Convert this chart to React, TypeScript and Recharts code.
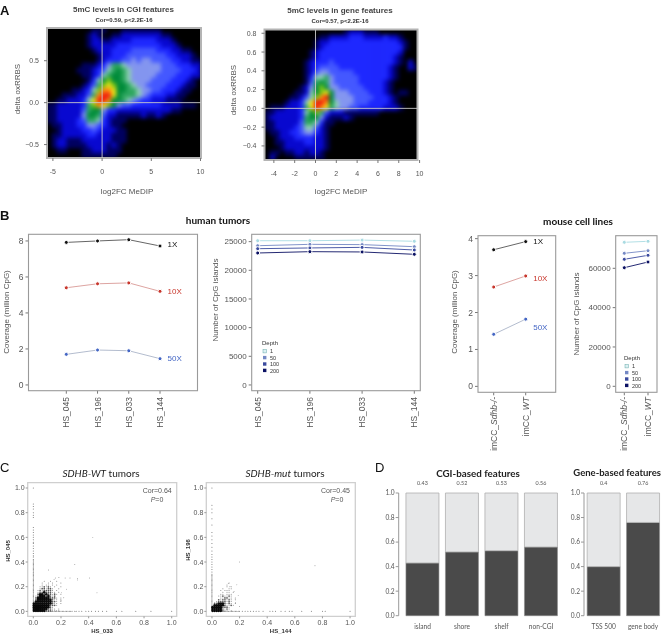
import React from 'react'
import {
  Bar, BarChart, LabelList, Line, LineChart, ReferenceArea, ReferenceLine,
  Scatter, ScatterChart, XAxis, YAxis,
} from 'recharts'

// every chart shares one page-sized svg, so the plot boxes below are page pixels
const W = 680
const H = 637
const AX = 20
const GREY = '#555'
const SANS = '"Liberation Sans", Arial, sans-serif'
const LATO = 'Lato, "Open Sans", sans-serif'

const frame = (l: number, t: number, r: number, b: number) => ({
  left: l - AX, top: t, right: W - r, bottom: H - b - AX,
})

// panel A: density, one hex level per cell, top row first
const HEAT_COLORS = ['#000000', '#000060', '#0808d0', '#1e28ff', '#4458ff', '#8496f0', '#8fd0b4', '#2ea860', '#008c3a', '#7cc818', '#f0e818', '#ff8c10', '#f01c10']

const CGI_DENSITY = [
  '0000000001110001111111100000000',
  '0000000012100112222222211000000',
  '0000000012211222233333222100000',
  '0000000012222233333333322210000',
  '0000000001222333344444333221100',
  '0000000000122333444444443322210',
  '0000000000123334454554444332211',
  '0000000111235776555555544433322',
  '0000001112346787655555544443332',
  '0000000112367887655555444433322',
  '0000000013689887655554444333210',
  '000000012479a988765544443332110',
  '00000112369bba88776554433321100',
  '0001112247bcca87776543332211000',
  '00112223 6accb88765433222111000'.replace(' ', ''),
  '1122222379ba985443333332222111',
  '11222224788533222222222221100',
  '112222258874221111121121',
  '1122223477632111',
  '0112223355432110',
  '00122223343222110',
  '01122222332221110',
  '01221112222221110',
  '0122111122221210',
  '0011000112221110',
  '0000000111111100',
]

const GENE_DENSITY = [
  '0000000000000000122211100000000',
  '0000000000011222233322223221000',
  '0000000000122333333333333332100',
  '0000000000123333333333333333100',
  '0000000001233333333333333332000',
  '0000000001233333333333333321000',
  '0000000012333433333333333321020',
  '0000000012344443333333333210021',
  '0000000012455444443333333210000',
  '0000000013667544444333333210000',
  '0000000014787544444333332100000',
  '0000000125898554444433332100000',
  '000000112689a85554444333210110',
  '00000112469bc855554444333210',
  '000012236accb86555444333321',
  '011122237acba765544333332221',
  '11222223689742221111111',
  '122222237885211121',
  '11222224776311',
  '1122223466421',
  '0112233455321',
  '0012223333221',
  '0011222233221',
  '0001222222221',
  '011011221221',
  '020000111111',
]

const CGI_X_TICKS = [-5, 0, 5, 10]
const CGI_Y_TICKS = [-0.5, 0, 0.5]
const GENE_X_TICKS = [-4, -2, 0, 2, 4, 6, 8, 10]
const GENE_Y_TICKS = [-0.4, -0.2, 0, 0.2, 0.4, 0.6, 0.8]

// panel B
const HUMAN_SAMPLES = ['HS_045', 'HS_196', 'HS_033', 'HS_144']
const HUMAN_COV_1X = [7.92, 8.0, 8.07, 7.72]
const HUMAN_COV_10X = [5.4, 5.62, 5.67, 5.2]
const HUMAN_COV_50X = [1.7, 1.94, 1.9, 1.46]
const HUMAN_CPG_1 = [25160, 25160, 25270, 25060]
const HUMAN_CPG_50 = [24290, 24530, 24480, 24120]
const HUMAN_CPG_100 = [23770, 23900, 24000, 23540]
const HUMAN_CPG_200 = [23020, 23250, 23200, 22790]

const MOUSE_LINES = ['imCC_Sdhb-/-', 'imCC_WT']
const MOUSE_COV_1X = [3.7, 3.92]
const MOUSE_COV_10X = [2.69, 2.99]
const MOUSE_COV_50X = [1.41, 1.82]
const MOUSE_CPG_1 = [73220, 73730]
const MOUSE_CPG_50 = [67630, 68950]
const MOUSE_CPG_100 = [64580, 66610]
const MOUSE_CPG_200 = [60310, 63200]

const DEPTHS = ['1', '50', '100', '200']
const DEPTH_COLORS = ['#a9dbe2', '#7488c4', '#3a4a9e', '#0b1163']

// panel C: dots along the two axes, plus the fan near the origin by density cell
const UNIT_TICKS = [0, 0.2, 0.4, 0.6, 0.8, 1]

const WT_ON_Y = [0.01, 0.02, 0.03, 0.04, 0.05, 0.06, 0.07, 0.08, 0.09, 0.1, 0.11, 0.12, 0.13, 0.14, 0.15, 0.16, 0.17, 0.18, 0.19, 0.2, 0.21, 0.22, 0.23, 0.24, 0.25, 0.26, 0.27, 0.28, 0.29, 0.3, 0.31, 0.32, 0.33, 0.34, 0.35, 0.36, 0.37, 0.38, 0.39, 0.4, 0.41, 0.42, 0.44, 0.45, 0.47, 0.49, 0.51, 0.53, 0.55, 0.56, 0.58, 0.6, 0.62, 0.64, 0.66, 0.68, 0.76, 0.78, 0.8, 0.83, 0.85, 0.87, 1.0]
const WT_ON_X = [0.01, 0.02, 0.03, 0.04, 0.05, 0.06, 0.07, 0.08, 0.09, 0.1, 0.11, 0.12, 0.13, 0.14, 0.15, 0.16, 0.17, 0.18, 0.19, 0.2, 0.21, 0.22, 0.23, 0.24, 0.25, 0.26, 0.27, 0.28, 0.3, 0.31, 0.33, 0.35, 0.38, 0.4, 0.42, 0.45, 0.47, 0.5, 0.53, 0.6, 0.64, 0.74, 0.85, 1.0]
const WT_LOOSE = [[0.43, 0.6], [0.3, 0.38], [0.11, 0.335], [0.405, 0.27], [0.32, 0.265], [0.32, 0.255], [0.23, 0.27], [0.265, 0.27], [0.46, 0.15], [0.24, 0.18], [0.205, 0.15], [0.16, 0.27], [0.185, 0.275], [0.15, 0.26], [0.22, 0.11], [0.2, 0.09]]
const WT_FAN = [
  '     .  .  .   ',
  '    .  . .   . ',
  '    . .. . .   ',
  '   ..+.+. .  . ',
  '   .++.++.  .  ',
  '  .+.++++. .   ',
  '  .++#+++.. .  ',
  '  +##+#++.+. . ',
  ' .+###+#+.+    ',
  ' +######+++. . ',
  ' +#######+.. . ',
  ' ########++. . ',
  '#########+.. . ',
  '########+++.   ',
  '########+.     ',
  '#######++.. .  ',
  '######+++....  ',
]

const MUT_ON_Y = [0.01, 0.02, 0.03, 0.04, 0.05, 0.06, 0.07, 0.08, 0.09, 0.1, 0.11, 0.12, 0.13, 0.14, 0.15, 0.16, 0.17, 0.18, 0.19, 0.2, 0.21, 0.22, 0.23, 0.24, 0.25, 0.26, 0.27, 0.28, 0.29, 0.3, 0.32, 0.34, 0.36, 0.38, 0.4, 0.42, 0.44, 0.46, 0.49, 0.52, 0.55, 0.58, 0.61, 0.64, 0.7, 0.75, 0.8, 0.83, 0.86, 1.0]
const MUT_ON_X = [0.01, 0.02, 0.03, 0.04, 0.05, 0.06, 0.07, 0.08, 0.09, 0.1, 0.11, 0.12, 0.13, 0.14, 0.15, 0.16, 0.17, 0.18, 0.19, 0.2, 0.22, 0.24, 0.26, 0.28, 0.3, 0.32, 0.34, 0.37, 0.42, 0.44, 0.46, 0.5, 0.53, 0.56, 0.58, 0.65, 0.72, 0.8, 0.82, 1.0]
const MUT_LOOSE = [[0.198, 0.4], [0.746, 0.37], [0.118, 0.225], [0.18, 0.215], [0.13, 0.2], [0.19, 0.13], [0.17, 0.07], [0.2, 0.04], [0.16, 0.16]]
const MUT_FAN = [
  '               ',
  '        .      ',
  '       .       ',
  '       . .     ',
  '     .  ..     ',
  '    . ...      ',
  '     . .. .    ',
  '    .. ...     ',
  '   ..+..+.     ',
  '    ..++.. .   ',
  '   +.++.+. .   ',
  '  .++++.+.     ',
  ' ++###+.+. .   ',
  ' #####+..+.    ',
  '#####+++.      ',
  '#####+.+.      ',
  '#####+.. .     ',
]

// panel D
const CGI_FEATURES = ['island', 'shore', 'shelf', 'non-CGI']
const CGI_FRACTION = [0.43, 0.52, 0.53, 0.56]
const GENE_FEATURES = ['TSS 500', 'gene body']
const GENE_FRACTION = [0.4, 0.76]
const FRACTION_TICKS = [0, 0.2, 0.4, 0.6, 0.8, 1]

const fmtUnit = (v: number) => v.toFixed(1)

function T({ x, y, size = 8, bold, italic, anchor = 'middle', rot, font = SANS, fill = GREY, children }: any) {
  return (
    <text
      x={x} y={y} fontSize={size} fontFamily={font} fill={fill}
      fontWeight={bold ? 700 : 400} fontStyle={italic ? 'italic' : 'normal'}
      textAnchor={anchor} dominantBaseline="central"
      transform={rot ? `rotate(${rot} ${x} ${y})` : undefined}
    >
      {children}
    </text>
  )
}

function Heatmap({ rows, xd, yd, box, xTicks, yTicks }: any) {
  const [l, t, r, b] = box
  const cols = 31
  const dx = (xd[1] - xd[0]) / cols
  const dy = (yd[1] - yd[0]) / rows.length
  const cells: any[] = []
  rows.forEach((row: string, ri: number) => {
    row.split('').forEach((ch, ci) => {
      const level = parseInt(ch, 16)
      if (level > 0) cells.push({ x: xd[0] + (ci + 0.5) * dx, y: yd[1] - (ri + 0.5) * dy, level })
    })
  })
  const cw = (r - l) / cols + 0.6
  const ch = (b - t) / rows.length + 0.6
  return (
    <>
      <div style={{ position: 'absolute', left: l, top: t, width: r - l, height: b - t, background: '#000', overflow: 'hidden' }}>
        <div style={{ filter: 'blur(2px)' }}>
          <ScatterChart width={r - l} height={b - t} margin={{ left: 0, right: 0, top: 0, bottom: 0 }}>
            <XAxis type="number" dataKey="x" domain={xd} hide allowDataOverflow />
            <YAxis type="number" dataKey="y" domain={yd} hide allowDataOverflow />
            <Scatter
              data={cells} isAnimationActive={false}
              shape={(p: any) => <rect x={p.cx - cw / 2} y={p.cy - ch / 2} width={cw} height={ch} fill={HEAT_COLORS[p.payload.level]} />}
            />
          </ScatterChart>
        </div>
      </div>
      <div style={{ position: 'absolute', left: 0, top: 0 }}>
        <ScatterChart width={W} height={H} margin={frame(l, t, r, b)}>
          <XAxis type="number" dataKey="x" domain={xd} ticks={xTicks} height={AX} allowDataOverflow tick={{ fontSize: 7, fill: GREY, fontFamily: SANS }} tickSize={3} tickMargin={8} axisLine={false} stroke="#777" interval={0} />
          <YAxis type="number" dataKey="y" domain={yd} ticks={yTicks} width={AX} allowDataOverflow tick={{ fontSize: 7, fill: GREY, fontFamily: SANS }} tickSize={3} tickMargin={5} axisLine={false} stroke="#777" interval={0} tickFormatter={(v: number) => (v === 0 ? '0.0' : String(v).replace('-', '\u2212'))} />
          <Scatter data={[]} isAnimationActive={false} />
          <ReferenceLine x={0} stroke="#c9c9c9" strokeWidth={0.9} />
          <ReferenceLine y={0} stroke="#c9c9c9" strokeWidth={0.9} />
          <ReferenceArea x1={xd[0]} x2={xd[1]} y1={yd[0]} y2={yd[1]} fill="none" stroke="#b4b4b4" strokeWidth={2} />
        </ScatterChart>
      </div>
    </>
  )
}

const sampleTick = (top: number) => ({ x, payload }: any) => (
  <text x={x} y={top} transform={`rotate(-90 ${x} ${top})`} fontSize={8.5} fontFamily={SANS} fill={GREY} textAnchor="end" dominantBaseline="central">
    {String(payload.value).startsWith('imCC') ? (
      <>imCC_<tspan fontStyle="italic">{String(payload.value).slice(5)}</tspan></>
    ) : payload.value}
  </text>
)

const endLabel = (text: string, color: string, last: number, dy: number) => (p: any) =>
  p.index === last ? (
    <text x={p.x + 7.5} y={p.y + dy} fontSize={8} fontFamily={SANS} fill={color} dominantBaseline="central">{text}</text>
  ) : <g />

function LinePanel({ box, cats, series, yd, yTicks, pad, top, tickSize = 8 }: any) {
  const [l, t, r, b] = box
  const data = cats.map((c: string, i: number) => {
    const row: any = { name: c }
    series.forEach((s: any) => { row[s.key] = s.values[i] })
    return row
  })
  return (
    <div style={{ position: 'absolute', left: 0, top: 0 }}>
      <LineChart width={W} height={H} data={data} margin={frame(l, t, r, b)}>
        <XAxis dataKey="name" height={AX} padding={pad} tick={sampleTick(top)} tickSize={3} axisLine={false} stroke="#777" interval={0} />
        <YAxis type="number" domain={yd} ticks={yTicks} width={AX} allowDataOverflow tick={{ fontSize: tickSize, fill: GREY, fontFamily: SANS }} tickSize={3} tickMargin={2} axisLine={false} stroke="#777" interval={0} />
        {series.map((s: any) => (
          <Line
            key={s.key} dataKey={s.key} stroke={s.line} strokeWidth={0.9} isAnimationActive={false}
            dot={{ r: 2, fill: s.dot, stroke: '#fff', strokeWidth: 1, fillOpacity: 1 }}
            label={s.label ? endLabel(s.label, s.dot, cats.length - 1, s.dy) : false}
          />
        ))}
      </LineChart>
      <svg width={W} height={H} style={{ position: 'absolute', left: 0, top: 0 }}>
        <rect x={l} y={t} width={r - l} height={b - t} fill="none" stroke="#9a9a9a" strokeWidth={1.1} />
      </svg>
    </div>
  )
}

function DepthLegend({ x, y, step }: any) {
  return (
    <g>
      <T x={x - 2} y={y} size={6} anchor="start" fill="#333">Depth</T>
      {DEPTHS.map((d, i) => (
        <g key={d}>
          <rect x={x - 1} y={y + 6.5 + i * step} width={3.4} height={3.4} fill={DEPTH_COLORS[i]} stroke={i === 0 ? '#6aa' : 'none'} strokeWidth={0.5} fillOpacity={i === 0 ? 0.4 : 1} />
          <T x={x + 6} y={y + 8.3 + i * step} size={5.5} anchor="start" fill="#333">{d}</T>
        </g>
      ))}
    </g>
  )
}

const dotShape = (r: number, opacity: number) => (p: any) => <circle cx={p.cx} cy={p.cy} r={r} fill="#000" fillOpacity={opacity} />

function fanCells(rows: string[], mark: string) {
  const step = 0.015
  const out: any[] = []
  rows.forEach((row, ri) => {
    row.split('').forEach((ch, ci) => {
      if (ch === mark) out.push({ x: ci * step + 0.004, y: (rows.length - 1 - ri) * step + 0.004 })
    })
  })
  return out
}

function DotPanel({ box, xd, yd, onX, onY, loose, fan }: any) {
  const [l, t, r, b] = box
  const axisDots = [
    ...onY.map((y: number) => ({ x: 0, y })),
    ...onX.map((x: number) => ({ x, y: 0 })),
  ]
  const looseDots = loose.map((p: number[]) => ({ x: p[0], y: p[1] }))
  const tick = { fontSize: 7, fill: GREY, fontFamily: SANS }
  return (
    <div style={{ position: 'absolute', left: 0, top: 0 }}>
      <ScatterChart width={W} height={H} margin={frame(l, t, r, b)}>
        <XAxis type="number" dataKey="x" domain={xd} ticks={UNIT_TICKS} height={AX} allowDataOverflow tick={tick} tickSize={2} tickMargin={2} axisLine={false} stroke="#999" tickFormatter={fmtUnit} interval={0} />
        <YAxis type="number" dataKey="y" domain={yd} ticks={UNIT_TICKS} width={AX} allowDataOverflow tick={tick} tickSize={2} tickMargin={1} axisLine={false} stroke="#999" tickFormatter={fmtUnit} interval={0} />
        <ReferenceArea x1={xd[0]} x2={xd[1]} y1={yd[0]} y2={yd[1]} fill="none" stroke="#cfcfcf" strokeWidth={1.3} />
        <Scatter data={fanCells(fan, '.')} isAnimationActive={false} shape={dotShape(0.5, 0.5)} />
        <Scatter data={fanCells(fan, '+')} isAnimationActive={false} shape={dotShape(0.85, 0.65)} />
        <Scatter data={fanCells(fan, '#')} isAnimationActive={false} shape={dotShape(1.3, 0.95)} />
        <Scatter data={axisDots} isAnimationActive={false} shape={dotShape(0.5, 0.6)} />
        <Scatter data={looseDots} isAnimationActive={false} shape={dotShape(0.45, 0.6)} />
      </ScatterChart>
    </div>
  )
}

function FractionBars({ box, cats, values, pad }: any) {
  const [l, t, r, b] = box
  const data = cats.map((c: string, i: number) => ({ name: c, low: values[i], high: 1 - values[i] }))
  const tick = { fontSize: 6.6, fill: GREY, fontFamily: LATO }
  return (
    <div style={{ position: 'absolute', left: 0, top: 0 }}>
      <BarChart width={W} height={H} data={data} margin={frame(l, t, r, b)} barCategoryGap={3.15}>
        <XAxis dataKey="name" height={AX} padding={pad} tick={tick} tickLine={false} axisLine={false} tickMargin={3} interval={0} />
        <YAxis type="number" domain={[0, 1]} ticks={FRACTION_TICKS} width={AX} tick={tick} tickSize={3} tickMargin={1} stroke="#999" tickFormatter={fmtUnit} interval={0} />
        <Bar dataKey="low" stackId="a" fill="#4a4a4a" stroke="#8a8a8a" strokeWidth={0.6} isAnimationActive={false} />
        <Bar dataKey="high" stackId="a" fill="#e6e7e8" stroke="#b0b0b0" strokeWidth={0.8} isAnimationActive={false}>
          <LabelList dataKey="low" position="top" offset={8} fontSize={5.4} fill={GREY} fontFamily={LATO} />
        </Bar>
      </BarChart>
    </div>
  )
}

export default function App() {
  return (
    <div style={{ position: 'absolute', left: 0, top: 0, width: 661, height: 637, overflow: 'hidden', background: '#fff', filter: 'blur(0.35px)' }}>
      <Heatmap rows={CGI_DENSITY} box={[47, 28, 201, 158]} xd={[-5.6, 10.05]} yd={[-0.66, 0.89]} xTicks={CGI_X_TICKS} yTicks={CGI_Y_TICKS} />
      <Heatmap rows={GENE_DENSITY} box={[264.5, 29.5, 417.5, 160]} xd={[-4.9, 9.8]} yd={[-0.55, 0.84]} xTicks={GENE_X_TICKS} yTicks={GENE_Y_TICKS} />

      <LinePanel
        box={[28.5, 234.3, 197.5, 390.7]} cats={HUMAN_SAMPLES} yd={[-0.32, 8.37]} yTicks={[0, 2, 4, 6, 8]}
        pad={{ left: 37.8, right: 37.5 }} top={397} tickSize={8.5}
        series={[
          { key: 'x1', values: HUMAN_COV_1X, line: '#555', dot: '#111', label: '1X', dy: -1 },
          { key: 'x10', values: HUMAN_COV_10X, line: '#d99a96', dot: '#c8362c', label: '10X', dy: 0 },
          { key: 'x50', values: HUMAN_COV_50X, line: '#aab4c8', dot: '#4466c4', label: '50X', dy: 0 },
        ]}
      />
      <LinePanel
        box={[251.7, 234.3, 420.3, 390.7]} cats={HUMAN_SAMPLES} yd={[-1000, 26280]} yTicks={[0, 5000, 10000, 15000, 20000, 25000]}
        pad={{ left: 6, right: 6 }} top={397}
        series={DEPTHS.map((d, i) => ({ key: 'd' + d, values: [HUMAN_CPG_1, HUMAN_CPG_50, HUMAN_CPG_100, HUMAN_CPG_200][i], line: DEPTH_COLORS[i], dot: DEPTH_COLORS[i] }))}
      />
      <LinePanel
        box={[478, 235.7, 555.7, 392.3]} cats={MOUSE_LINES} yd={[-0.16, 4.08]} yTicks={[0, 1, 2, 3, 4]}
        pad={{ left: 15.7, right: 30 }} top={397} tickSize={8.5}
        series={[
          { key: 'x1', values: MOUSE_COV_1X, line: '#555', dot: '#111', label: '1X', dy: 0 },
          { key: 'x10', values: MOUSE_COV_10X, line: '#d99a96', dot: '#c8362c', label: '10X', dy: 3 },
          { key: 'x50', values: MOUSE_COV_50X, line: '#aab4c8', dot: '#4466c4', label: '50X', dy: 8 },
        ]}
      />
      <LinePanel
        box={[615.7, 235.7, 657, 392.3]} cats={MOUSE_LINES} yd={[-3050, 76580]} yTicks={[0, 20000, 40000, 60000]}
        pad={{ left: 8.6, right: 9 }} top={397}
        series={DEPTHS.map((d, i) => ({ key: 'd' + d, values: [MOUSE_CPG_1, MOUSE_CPG_50, MOUSE_CPG_100, MOUSE_CPG_200][i], line: DEPTH_COLORS[i], dot: DEPTH_COLORS[i] }))}
      />

      <DotPanel box={[27.7, 482.7, 176.7, 616.3]} xd={[-0.0405, 1.036]} yd={[-0.04, 1.043]} onX={WT_ON_X} onY={WT_ON_Y} loose={WT_LOOSE} fan={WT_FAN} />
      <DotPanel box={[206.3, 482.7, 355.3, 616.3]} xd={[-0.041, 1.038]} yd={[-0.04, 1.043]} onX={MUT_ON_X} onY={MUT_ON_Y} loose={MUT_LOOSE} fan={MUT_FAN} />

      <FractionBars box={[398.7, 493, 560.8, 615.7]} cats={CGI_FEATURES} values={CGI_FRACTION} pad={{ left: 4.1, right: 0 }} />
      <FractionBars box={[584, 493, 662.8, 615.7]} cats={GENE_FEATURES} values={GENE_FRACTION} pad={{ left: 0, right: 0 }} />

      <svg width={W} height={H} style={{ position: 'absolute', left: 0, top: 0 }}>
        <T x={0} y={10} size={13} bold anchor="start" fill="#111">A</T>
        <T x={0} y={215} size={13} bold anchor="start" fill="#111">B</T>
        <T x={0} y={467} size={13} anchor="start" fill="#111">C</T>
        <T x={375} y={467} size={13} anchor="start" fill="#111">D</T>

        <T x={123.5} y={9.5} bold fill="#444">5mC levels in CGI features</T>
        <T x={124} y={20} size={6} bold fill="#333">Cor=0.59, p&lt;2.2E-16</T>
        <T x={340} y={10} bold fill="#444">5mC levels in gene features</T>
        <T x={340} y={20.5} size={6} bold fill="#333">Cor=0.57, p&lt;2.2E-16</T>
        <T x={127} y={191}>log2FC MeDIP</T>
        <T x={341} y={191}>log2FC MeDIP</T>
        <T x={17} y={89} rot={-90}>delta oxRRBS</T>
        <T x={233} y={90} rot={-90}>delta oxRRBS</T>

        <T x={218} y={220} size={10} bold font={LATO} fill="#111">human tumors</T>
        <T x={578} y={221} size={10} bold font={LATO} fill="#111">mouse cell lines</T>
        <T x={6} y={312} rot={-90}>Coverage (million CpG)</T>
        <T x={215} y={300} rot={-90}>Number of CpG islands</T>
        <T x={454} y={312} rot={-90}>Coverage (million CpG)</T>
        <T x={576} y={314} rot={-90}>Number of CpG islands</T>
        <DepthLegend x={264} y={343} step={6.4} />
        <DepthLegend x={626} y={358} step={6.4} />

        <T x={101} y={473} size={10} font={LATO} fill="#222"><tspan fontStyle="italic">SDHB-WT</tspan> tumors</T>
        <T x={285} y={473} size={10} font={LATO} fill="#222"><tspan fontStyle="italic">SDHB-mut</tspan> tumors</T>
        <T x={171.7} y={490.7} size={7} anchor="end">Cor=0.64</T>
        <T x={157} y={499} size={7}><tspan fontStyle="italic">P</tspan>=0</T>
        <T x={350} y={490.7} size={7} anchor="end">Cor=0.45</T>
        <T x={337} y={499} size={7}><tspan fontStyle="italic">P</tspan>=0</T>
        <T x={102} y={631} size={6} bold fill="#333">HS_033</T>
        <T x={280.7} y={631} size={6} bold fill="#333">HS_144</T>
        <T x={8} y={551} size={6} bold rot={-90} fill="#333">HS_045</T>
        <T x={187.7} y={550} size={6} bold rot={-90} fill="#333">HS_196</T>

        <T x={478} y={472.7} size={9.8} bold font={LATO} fill="#222">CGI-based features</T>
        <T x={573.3} y={472.7} size={9.5} bold font={LATO} anchor="start" fill="#222">Gene-based features</T>
      </svg>
    </div>
  )
}
